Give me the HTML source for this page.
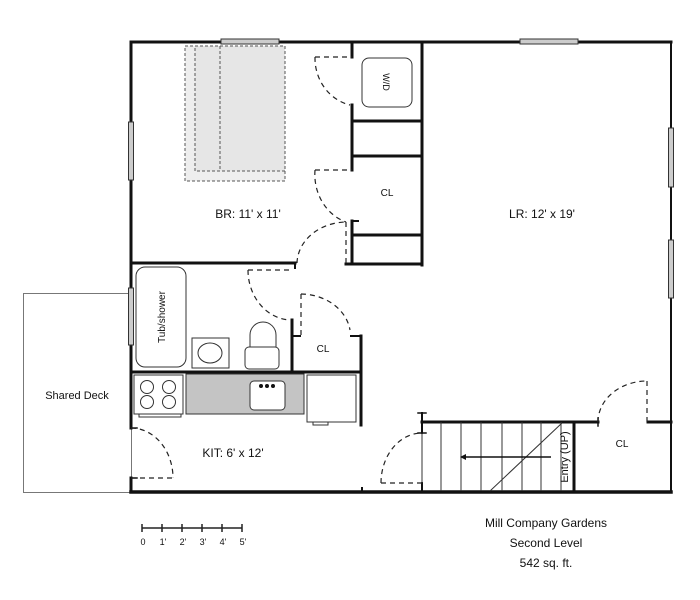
<!DOCTYPE html>
<html><head><style>
html,body{margin:0;padding:0;background:#fff;}
svg{display:block;font-family:"Liberation Sans",Arial,sans-serif;}
</style></head><body>
<svg width="700" height="600" viewBox="0 0 700 600">
<rect width="700" height="600" fill="#fff"/>
<!-- deck -->
<rect x="23.5" y="293.5" width="108" height="199" fill="none" stroke="#777" stroke-width="1"/>
<!-- bed -->
<rect x="185" y="46" width="100" height="135" fill="#eee" stroke="#555" stroke-width="1" stroke-dasharray="3,2"/>
<rect x="195" y="46" width="90" height="125" fill="#e6e6e6" stroke="#555" stroke-width="1" stroke-dasharray="3,2"/>
<line x1="220" y1="46" x2="220" y2="171" stroke="#555" stroke-dasharray="3,2"/>
<g stroke="#111" stroke-width="3" fill="none" stroke-linecap="square">
<!-- outer -->
<polyline points="131,491 131,478"/>
<polyline points="131,428 131,42 671,42"/>
<line x1="131" y1="492" x2="671" y2="492" stroke-width="3.5"/>
<!-- bedroom interior walls -->
<line x1="352" y1="42" x2="352" y2="57"/>
<line x1="352" y1="105" x2="352" y2="170"/>
<line x1="352" y1="221" x2="352" y2="263"/>
<line x1="352" y1="221" x2="358" y2="221" stroke-width="2"/>
<line x1="422" y1="42" x2="422" y2="265"/>
<line x1="352" y1="121" x2="422" y2="121"/>
<line x1="352" y1="156" x2="422" y2="156"/>
<line x1="352" y1="235" x2="422" y2="235"/>
<line x1="346" y1="264" x2="422" y2="264"/>
<line x1="131" y1="263" x2="295" y2="263"/>
<line x1="295" y1="263" x2="295" y2="268" stroke-width="2"/>
<!-- bath / cl -->
<line x1="292" y1="320" x2="292" y2="372"/>
<line x1="292" y1="336" x2="300" y2="336" stroke-width="2"/>
<line x1="351" y1="336" x2="361" y2="336" stroke-width="2"/>
<line x1="361" y1="336" x2="361" y2="425"/>
<line x1="131" y1="372" x2="361" y2="372"/>
<!-- stair / cl -->
<line x1="422" y1="422" x2="598" y2="422"/>
<line x1="648" y1="422" x2="671" y2="422"/>
<line x1="574" y1="422" x2="574" y2="491"/>
<line x1="422" y1="413" x2="422" y2="433" stroke-width="2"/>
<line x1="418" y1="413" x2="426" y2="413" stroke-width="1.5"/>
<line x1="418" y1="433" x2="426" y2="433" stroke-width="1.5"/>
<line x1="422" y1="483" x2="422" y2="491" stroke-width="2"/>
<line x1="598" y1="418" x2="598" y2="426" stroke-width="1.5"/>
<line x1="131" y1="428" x2="137" y2="428" stroke-width="1.5"/>
<line x1="131" y1="478" x2="137" y2="478" stroke-width="1.5"/>
</g>
<line x1="671" y1="42" x2="671" y2="491" stroke="#111" stroke-width="2"/>
<line x1="362" y1="487" x2="362" y2="492" stroke="#111" stroke-width="2"/>
<!-- windows -->
<g fill="#ccc" stroke="#333" stroke-width="1">
<rect x="221" y="39" width="58" height="5"/>
<rect x="520" y="39" width="58" height="5"/>
<rect x="128.5" y="122" width="5" height="58"/>
<rect x="128.5" y="288" width="5" height="57"/>
<rect x="668.5" y="128" width="5" height="59"/>
<rect x="668.5" y="240" width="5" height="58"/>
</g>
<!-- doors -->
<g fill="none" stroke="#222" stroke-width="1.2" stroke-dasharray="5,4">
<line x1="315" y1="57" x2="352" y2="57"/><path d="M315,57 A45,48 0 0 0 350,105"/>
<line x1="315" y1="170" x2="352" y2="170"/><path d="M315,170 A45,50 0 0 0 346,222"/>
<line x1="346" y1="222" x2="346" y2="264"/><path d="M297,263 A50,42 0 0 1 346,222"/>
<line x1="248" y1="270" x2="292" y2="270"/><path d="M248,270 A44,50 0 0 0 290,320"/>
<line x1="301" y1="294" x2="301" y2="336"/><path d="M301,294 A50,42 0 0 1 350,330"/>
<line x1="131" y1="478" x2="173" y2="478"/><path d="M131,428 A42,50 0 0 1 173,478"/>
<line x1="381" y1="483" x2="422" y2="483"/><path d="M381,483 A41,50 0 0 1 422,433"/>
<line x1="647" y1="381" x2="647" y2="422"/><path d="M598,422 A49,41 0 0 1 647,381"/>
</g>
<!-- stairs -->
<g stroke="#333" stroke-width="1">
<line x1="422" y1="433" x2="422" y2="483"/>
<line x1="441" y1="422" x2="441" y2="491"/><line x1="461" y1="422" x2="461" y2="491"/>
<line x1="481" y1="422" x2="481" y2="491"/><line x1="502" y1="422" x2="502" y2="491"/>
<line x1="522" y1="422" x2="522" y2="491"/><line x1="541" y1="422" x2="541" y2="491"/>
<line x1="561" y1="422" x2="561" y2="491"/>
<line x1="490" y1="491" x2="562" y2="423"/>
<line x1="463" y1="457" x2="551" y2="457" stroke="#111" stroke-width="1.5"/>
</g>
<path d="M460,457 L466,454 L466,460 Z" fill="#111"/>
<!-- fixtures -->
<g fill="#fff" stroke="#333" stroke-width="1">
<rect x="362" y="58" width="50" height="49" rx="7"/>
<rect x="136" y="267" width="50" height="100" rx="9"/>
<rect x="192" y="338" width="37" height="30"/>
<ellipse cx="210" cy="353" rx="12" ry="10"/>
<path d="M250,348 L250,335 A13,13 0 0 1 276,335 L276,348"/>
<rect x="245" y="347" width="34" height="22" rx="4"/>
<rect x="186" y="374" width="118" height="40" fill="#c4c4c4"/>
<rect x="250" y="381" width="35" height="29" rx="4"/>
<rect x="134" y="375" width="49" height="39"/>
<rect x="139" y="414" width="42" height="3"/>
<circle cx="147" cy="387" r="6.5"/><circle cx="169" cy="387" r="6.5"/>
<circle cx="147" cy="402" r="6.5"/><circle cx="169" cy="402" r="6.5"/>
<rect x="307" y="375" width="49" height="47"/>
<rect x="313" y="422" width="15" height="3"/>
</g>
<g fill="#111"><circle cx="261" cy="386" r="2"/><circle cx="267" cy="386" r="2"/><circle cx="273" cy="386" r="2"/></g>
<!-- labels -->
<g font-size="12" fill="#111">
<text x="248" y="218" text-anchor="middle">BR: 11' x 11'</text>
<text x="542" y="218" text-anchor="middle">LR: 12' x 19'</text>
<text x="233" y="457" text-anchor="middle">KIT: 6' x 12'</text>
<text x="77" y="399" text-anchor="middle" font-size="11">Shared Deck</text>
</g>
<g font-size="10" fill="#111">
<text x="387" y="196" text-anchor="middle">CL</text>
<text x="323" y="352" text-anchor="middle">CL</text>
<text x="622" y="447" text-anchor="middle">CL</text>
<text transform="translate(383,82) rotate(90)" text-anchor="middle" font-size="9">W/D</text>
<text transform="translate(165,317) rotate(-90)" text-anchor="middle">Tub/shower</text>
<text transform="translate(568,457) rotate(-90)" text-anchor="middle" font-size="11">Entry (UP)</text>
</g>
<!-- scale -->
<g stroke="#222" stroke-width="1.5">
<line x1="142" y1="528" x2="242" y2="528"/>
<line x1="142" y1="524" x2="142" y2="532"/><line x1="162" y1="524" x2="162" y2="532"/>
<line x1="182" y1="524" x2="182" y2="532"/><line x1="202" y1="524" x2="202" y2="532"/>
<line x1="222" y1="524" x2="222" y2="532"/><line x1="242" y1="524" x2="242" y2="532"/>
</g>
<g font-size="9" fill="#111" text-anchor="middle">
<text x="143" y="545">0</text><text x="163" y="545">1'</text><text x="183" y="545">2'</text>
<text x="203" y="545">3'</text><text x="223" y="545">4'</text><text x="243" y="545">5'</text>
</g>
<g font-size="12" fill="#111" text-anchor="middle">
<text x="546" y="527">Mill Company Gardens</text>
<text x="546" y="547">Second Level</text>
<text x="546" y="567">542 sq. ft.</text>
</g>
</svg>
</body></html>
